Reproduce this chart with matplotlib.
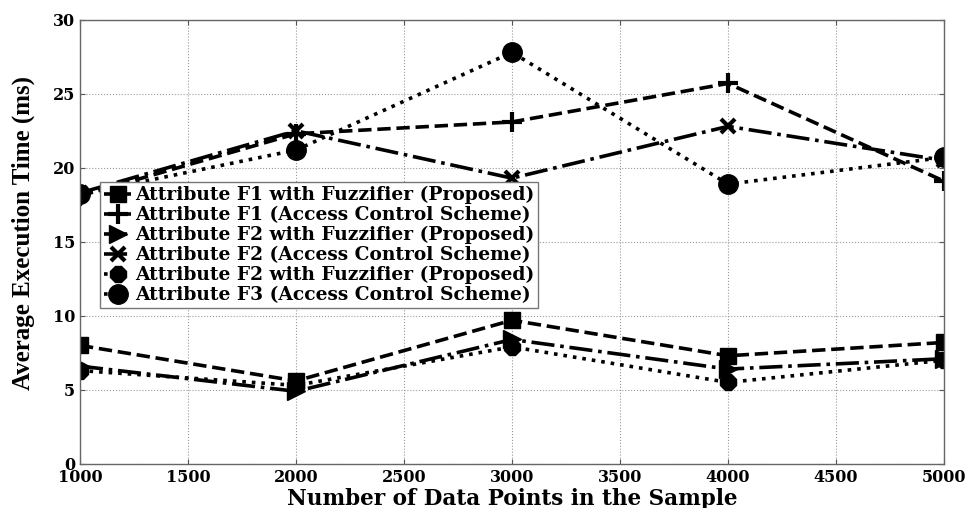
import numpy as np
import matplotlib
matplotlib.use("Agg")
import matplotlib.pyplot as plt

# Number of data points (x axis)
samples = [1000, 2000, 3000, 4000, 5000]

# Average execution time (ms)
f1_fuzzy = [8.0, 5.6, 9.7, 7.3, 8.2]
f1_acs = [18.1, 22.3, 23.1, 25.7, 19.1]
f2_fuzzy = [6.6, 4.9, 8.4, 6.4, 7.1]
f2_acs = [18.3, 22.5, 19.3, 22.8, 20.5]
f2_fuzzy_b = [6.3, 5.3, 7.9, 5.5, 7.0]
f3_acs = [18.2, 21.2, 27.8, 18.9, 20.7]

labels = [
    "Attribute F1 with Fuzzifier (Proposed)",
    "Attribute F1 (Access Control Scheme)",
    "Attribute F2 with Fuzzifier (Proposed)",
    "Attribute F2 (Access Control Scheme)",
    "Attribute F2 with Fuzzifier (Proposed)",
    "Attribute F3 (Access Control Scheme)",
]

# wide serif for ticks/legend/xlabel (reference text looks stretched), Times-like for y label
wide = ['DejaVu Serif']
times = ['Liberation Serif', 'DejaVu Serif']
plt.rcParams['font.family'] = wide
plt.rcParams['font.weight'] = 'bold'

fig = plt.figure(figsize=(9.8, 5.08), dpi=100)
ax = fig.add_axes([0.0816, 0.087, 0.8817, 0.874])

lw = 2.6
ax.plot(samples, f1_fuzzy, color='k', ls='--', lw=lw, marker='s', ms=11, label=labels[0])
ax.plot(samples, f1_acs, color='k', ls='--', lw=lw, marker='+', ms=15, mew=3, label=labels[1])
ax.plot(samples, f2_fuzzy, color='k', ls='-.', lw=lw, marker='>', ms=13, label=labels[2])
ax.plot(samples, f2_acs, color='k', ls='-.', lw=lw, marker='x', ms=10, mew=3, label=labels[3])
ax.plot(samples, f2_fuzzy_b, color='k', ls=':', lw=lw, marker='8', ms=12, label=labels[4])
ax.plot(samples, f3_acs, color='k', ls=':', lw=lw, marker='o', ms=14, label=labels[5])

ax.set_xlim(1000, 5000)
ax.set_ylim(0, 30)
ax.set_xticks(np.arange(1000, 5001, 500))
ax.set_yticks(np.arange(0, 31, 5))
ax.grid(True, ls=':', color='#999999', lw=0.8)
ax.tick_params(direction='in', top=True, right=True, labelsize=11.5, color='#555555')
ax.tick_params(axis='x', pad=4)
for s in ax.spines.values():
    s.set_color('#666666')
    s.set_linewidth(1.0)

ax.set_xlabel("Number of Data Points in the Sample", fontsize=15.5, fontweight='bold',
              labelpad=1)
ax.set_ylabel("Average Execution Time (ms)", fontsize=18, fontweight='bold',
              family=times)
ax.yaxis.set_label_coords(-0.052, 0.52)

leg = ax.legend(loc='upper left', bbox_to_anchor=(0.023, 0.634),
                prop={'family': wide, 'weight': 'bold', 'size': 13.4},
                fancybox=False, framealpha=1, edgecolor='#777777',
                handlelength=1.5, handletextpad=0.2, labelspacing=0.1,
                borderpad=0.2, borderaxespad=0)
leg.get_frame().set_linewidth(1.0)

fig.savefig("out.png", dpi=100)
